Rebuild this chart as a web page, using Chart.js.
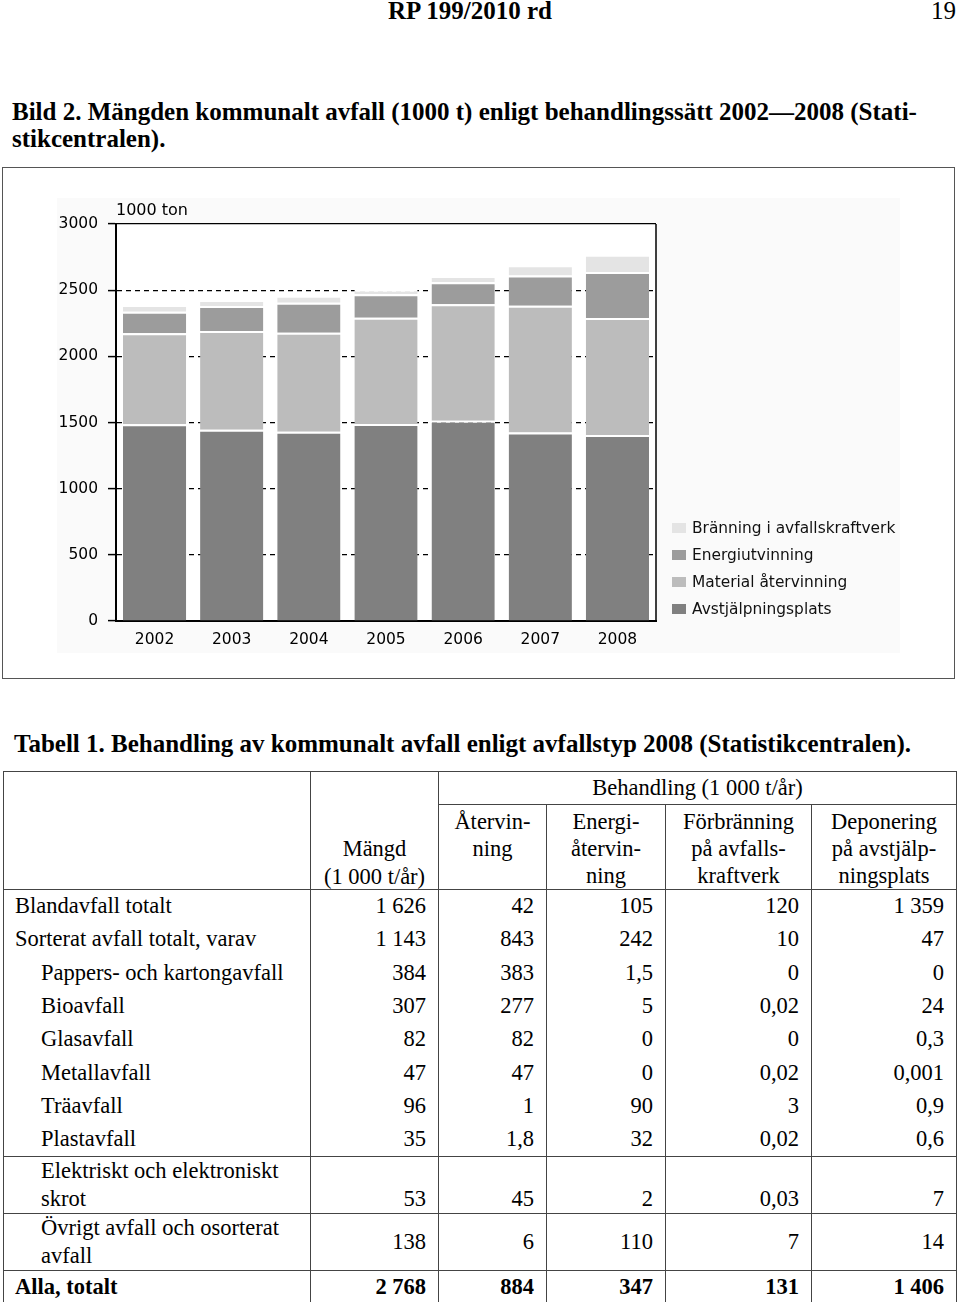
<!DOCTYPE html>
<html lang="sv">
<head>
<meta charset="utf-8">
<script src="https://cdn.jsdelivr.net/npm/chart.js@4.4.1/dist/chart.umd.min.js"></script>
<style>
  body{margin:0;width:960px;height:1302px;position:relative;background:#fff;color:#000;
       font-family:"Liberation Serif","Times New Roman",serif;overflow:hidden;}
  .hdr{position:absolute;top:-3px;left:0;width:940px;text-align:center;font-weight:bold;font-size:25px;}
  .pno{position:absolute;top:-3px;left:931px;font-size:25px;}
  .cap{position:absolute;left:12px;top:98px;width:940px;font-weight:bold;font-size:25px;line-height:27px;}
  .box{position:absolute;left:2px;top:167px;width:951px;height:510px;border:1.5px solid #555;}
  #wrap{position:absolute;left:57px;top:198px;width:843px;height:455px;background:#fafafa;}
  .tcap{position:absolute;left:14px;top:730px;font-weight:bold;font-size:25px;white-space:nowrap;}
  table{position:absolute;left:3px;top:771px;border-collapse:collapse;table-layout:fixed;width:953px;font-size:22.5px;}
  td{border-left:1.5px solid #444;border-right:1.5px solid #444;padding:0 12px;line-height:28px;text-align:right;vertical-align:middle;}
  tr.hd td{border:1.5px solid #444;text-align:center;}
  tr.hb td{vertical-align:top;padding:2.5px 4px 0;line-height:27px;}
  td.mg{vertical-align:bottom !important;padding:0 4px;line-height:28px;}
  td.mg div{position:relative;top:2px;}
  tr.r td{height:33.3px;line-height:26px;}
  tr.r2 td{height:52px;line-height:28px;}
  tr.tl td{border-top:1.5px solid #444;}
  tr.bt td{border-bottom:1.5px solid #444;font-weight:bold;height:31.5px;}
  td.l{text-align:left;padding-left:11px;}
  td.s{text-align:left;padding-left:37px;}
  td.bot{vertical-align:bottom;}
</style>
</head>
<body>
<div class="hdr">RP 199/2010 rd</div>
<div class="pno">19</div>
<div class="cap">Bild 2. Mängden kommunalt avfall (1000 t) enligt behandlingssätt 2002—2008 (Stati-<br>stikcentralen).</div>
<div class="box"></div>
<div id="wrap"><canvas id="chart"></canvas></div>

<div class="tcap">Tabell 1. Behandling av kommunalt avfall enligt avfallstyp 2008 (Statistikcentralen).</div>
<table>
  <colgroup><col style="width:307px"><col style="width:128px"><col style="width:108px"><col style="width:119px"><col style="width:146px"><col style="width:145px"></colgroup>
  <tr class="hd" style="height:33px"><td rowspan="2"></td><td rowspan="2" class="mg"><div>Mängd<br>(1 000 t/år)</div></td><td colspan="4">Behandling (1 000 t/år)</td></tr>
  <tr class="hd hb" style="height:83px"><td>Återvin-<br>ning</td><td>Energi-<br>återvin-<br>ning</td><td>Förbränning<br>på avfalls-<br>kraftverk</td><td>Deponering<br>på avstjälp-<br>ningsplats</td></tr>
  <tr class="r"><td class="l">Blandavfall totalt</td><td>1 626</td><td>42</td><td>105</td><td>120</td><td>1 359</td></tr>
  <tr class="r"><td class="l">Sorterat avfall totalt, varav</td><td>1 143</td><td>843</td><td>242</td><td>10</td><td>47</td></tr>
  <tr class="r"><td class="s">Pappers- och kartongavfall</td><td>384</td><td>383</td><td>1,5</td><td>0</td><td>0</td></tr>
  <tr class="r"><td class="s">Bioavfall</td><td>307</td><td>277</td><td>5</td><td>0,02</td><td>24</td></tr>
  <tr class="r"><td class="s">Glasavfall</td><td>82</td><td>82</td><td>0</td><td>0</td><td>0,3</td></tr>
  <tr class="r"><td class="s">Metallavfall</td><td>47</td><td>47</td><td>0</td><td>0,02</td><td>0,001</td></tr>
  <tr class="r"><td class="s">Träavfall</td><td>96</td><td>1</td><td>90</td><td>3</td><td>0,9</td></tr>
  <tr class="r"><td class="s">Plastavfall</td><td>35</td><td>1,8</td><td>32</td><td>0,02</td><td>0,6</td></tr>
  <tr class="r2 tl"><td class="s">Elektriskt och elektroniskt<br>skrot</td><td class="bot">53</td><td class="bot">45</td><td class="bot">2</td><td class="bot">0,03</td><td class="bot">7</td></tr>
  <tr class="r2 tl"><td class="s">Övrigt avfall och osorterat<br>avfall</td><td>138</td><td>6</td><td>110</td><td>7</td><td>14</td></tr>
  <tr class="r tl bt"><td class="l">Alla, totalt</td><td>2 768</td><td>884</td><td>347</td><td>131</td><td>1 406</td></tr>
</table>

<script>
// 1000 ton per år, läst från stapeldiagrammet
const years = ['2002', '2003', '2004', '2005', '2006', '2007', '2008'];
const avstjalpningsplats = [1486, 1445, 1430, 1488, 1513, 1425, 1406];
const materialAtervinning = [688, 746, 748, 804, 880, 958, 884];
const energiutvinning = [163, 189, 227, 177, 167, 227, 347];
const branning = [51, 46, 53, 35, 47, 78, 131];
const yMax = 3000, yStep = 500;

const tickFont = {family: 'DejaVu Sans', size: 15.5};

// vit plotyta, ram till höger, enhetstext och förklaring till höger om diagrammet
const frame = {
  id: 'frame',
  beforeDraw(chart){
    const {ctx, chartArea: a} = chart;
    ctx.save(); ctx.fillStyle = '#fff'; ctx.fillRect(a.left, a.top, a.width, a.height); ctx.restore();
  },
  afterDraw(chart){
    const {ctx, chartArea: a} = chart;
    ctx.save();
    ctx.strokeStyle = '#000'; ctx.lineWidth = 1.5;
    ctx.beginPath(); ctx.moveTo(a.right, a.top); ctx.lineTo(a.right, a.bottom); ctx.stroke();
    ctx.fillStyle = '#000'; ctx.font = '16px "DejaVu Sans"'; ctx.textBaseline = 'middle';
    ctx.fillText('1000 ton', a.left, a.top - 13);
    ctx.font = '15.4px "DejaVu Sans"';
    chart.data.datasets.forEach((d, i) => {
      const y = a.bottom - 12 - i * 27;
      ctx.fillStyle = d.backgroundColor; ctx.fillRect(a.right + 16, y - 5, 14, 10);
      ctx.fillStyle = '#111'; ctx.fillText(d.label, a.right + 36, y + 1);
    });
    ctx.restore();
  }
};

const seg = {borderColor: '#fff', borderWidth: {top: 2, right: 0, bottom: 0, left: 0}};

new Chart(document.getElementById('chart').getContext('2d'), {
  type: 'bar',
  data: {
    labels: years,
    datasets: [
      {label: 'Avstjälpningsplats', data: avstjalpningsplats, backgroundColor: '#808080', ...seg},
      {label: 'Material återvinning', data: materialAtervinning, backgroundColor: '#bcbcbc', ...seg},
      {label: 'Energiutvinning', data: energiutvinning, backgroundColor: '#9c9c9c', ...seg},
      {label: 'Bränning i avfallskraftverk', data: branning, backgroundColor: '#e4e4e4', ...seg}
    ]
  },
  options: {
    responsive: true, maintainAspectRatio: false, animation: false,
    barPercentage: 0.82, categoryPercentage: 1,
    layout: {padding: {top: 26, right: 244, left: 0, bottom: 0}},
    plugins: {tooltip: {enabled: false}, legend: {display: false}},
    scales: {
      x: {
        stacked: true,
        grid: {display: false, drawTicks: false},
        border: {color: '#000', width: 2},
        ticks: {padding: 10, color: '#000', font: tickFont},
        afterFit(s){ s.height = 32; }
      },
      y: {
        stacked: true, min: 0, max: yMax,
        ticks: {stepSize: yStep, padding: 10, color: '#000', font: tickFont, callback: v => String(v)},
        grid: {color: '#000', lineWidth: 1.2, tickLength: 8, tickColor: '#000', tickWidth: 1.5},
        border: {color: '#000', width: 2, dash: c => (c.tick && c.tick.value === yMax) ? [] : [5, 4]},
        afterFit(s){ s.width = 59; }
      }
    }
  },
  plugins: [frame]
});
</script>
</body>
</html>
